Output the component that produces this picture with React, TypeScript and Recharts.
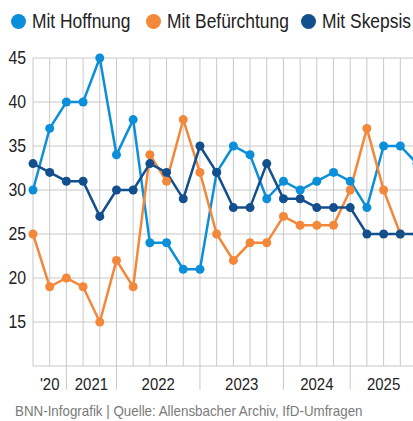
import React from "react";
import { LineChart, Line, XAxis, YAxis, CartesianGrid, ReferenceLine } from "recharts";

const hoffnung = [30, 37, 40, 40, 45, 34, 38, 24, 24, 21, 21, 32, 35, 34, 29, 31, 30, 31, 32, 31, 28, 35, 35, 33];
const befuerchtung = [25, 19, 20, 19, 15, 22, 19, 34, 31, 38, 32, 25, 22, 24, 24, 27, 26, 26, 26, 30, 37, 30, 25, null];
const skepsis = [33, 32, 31, 31, 27, 30, 30, 33, 32, 29, 35, 32, 28, 28, 33, 29, 29, 28, 28, 28, 25, 25, 25, 25];

const yearLabels = ["'20", "2021", "2022", "2023", "2024", "2025"];
const yearCenters = [1, 3.5, 7.5, 12.5, 17, 21];
const yearBreaks = [2, 5, 10, 15, 19];
const yTicks = [10, 15, 20, 25, 30, 35, 40, 45];

const LIGHT = "#0a8fd8";
const ORANGE = "#f3873a";
const DARK = "#134f8d";
const GRID = "#c8c8c8";
const FONT = "'Liberation Sans', Arial, sans-serif";

const data = hoffnung.map((v, i) => ({
  i,
  hoffnung: v,
  befuerchtung: befuerchtung[i],
  skepsis: skepsis[i],
}));

const allIdx = data.map((d) => d.i);

const legendItems = [
  { label: "Mit Hoffnung", color: LIGHT, left: 11 },
  { label: "Mit Befürchtung", color: ORANGE, left: 146 },
  { label: "Mit Skepsis", color: DARK, left: 301 },
];

function NarrowTick(props: any) {
  const { x, y, payload, textAnchor, formatter, size } = props;
  const label = formatter ? formatter(payload.value) : String(payload.value);
  return (
    <g transform={`translate(${x},${y})`}>
      <text
        transform="scale(0.88,1)"
        textAnchor={textAnchor}
        dy="0.355em"
        fill="#222"
        fontSize={size}
        fontFamily={FONT}
      >
        {label}
      </text>
    </g>
  );
}

const yearFmt = (v: number) => yearLabels[yearCenters.indexOf(v)];
const yFmt = (v: number) => (v === 10 ? "" : String(v));

export default function App() {
  return (
    <div
      style={{
        position: "fixed",
        left: 0,
        top: 0,
        width: 413,
        height: 421,
        overflow: "hidden",
        background: "#fff",
        fontFamily: FONT,
      }}
    >
      {legendItems.map((it) => (
        <div
          key={it.label}
          style={{
            position: "absolute",
            left: it.left,
            top: 10,
            display: "flex",
            alignItems: "center",
            whiteSpace: "nowrap",
            fontSize: 20,
            color: "#222",
          }}
        >
          <span
            style={{
              display: "inline-block",
              width: 15,
              height: 15,
              borderRadius: "50%",
              background: it.color,
              marginRight: 6,
            }}
          />
          <span style={{ display: "inline-block", transform: "scaleX(0.87)", transformOrigin: "left center" }}>
            {it.label}
          </span>
        </div>
      ))}
      <div style={{ position: "absolute", left: 0, top: 0 }}>
        <LineChart
          width={430}
          height={421}
          data={data}
          margin={{ top: 58, right: 13, bottom: 25, left: 0 }}
        >
          <CartesianGrid
            xAxisId="pts"
            stroke={GRID}
            strokeWidth={1}
            verticalCoordinatesGenerator={({ xAxis, offset }: any) =>
              allIdx.map((i) =>
                xAxis && typeof xAxis.scale === "function"
                  ? xAxis.scale(i)
                  : offset.left + (i * offset.width) / (allIdx.length - 1)
              )
            }
          />
          <XAxis
            xAxisId="pts"
            dataKey="i"
            type="number"
            domain={[0, 23]}
            ticks={allIdx}
            height={0}
            axisLine={false}
            tickLine={false}
            tick={false}
          />
          <XAxis
            xAxisId="years"
            dataKey="i"
            type="number"
            domain={[0, 23]}
            ticks={yearCenters}
            height={30}
            axisLine={false}
            tickLine={false}
            tickSize={0}
            tickMargin={0}
            tick={(p: any) => <NarrowTick {...p} y={p.y + 18} size={17} formatter={yearFmt} />}
          />
          <YAxis
            type="number"
            domain={[10, 45]}
            ticks={yTicks}
            width={33}
            axisLine={false}
            tickLine={false}
            tickSize={0}
            tickMargin={0}
            tick={(p: any) => <NarrowTick {...p} x={p.x - 7} size={18} formatter={yFmt} />}
          />
          {yearBreaks.map((b) => (
            <ReferenceLine
              key={b}
              xAxisId="pts"
              segment={[
                { x: b, y: 10 },
                { x: b, y: 7.3 },
              ]}
              stroke={GRID}
              strokeWidth={1}
              ifOverflow="visible"
            />
          ))}
          <Line
            xAxisId="pts"
            dataKey="hoffnung"
            stroke={LIGHT}
            strokeWidth={2.5}
            dot={{ r: 4.5, fill: LIGHT, stroke: "none" }}
            isAnimationActive={false}
          />
          <Line
            xAxisId="pts"
            dataKey="befuerchtung"
            stroke={ORANGE}
            strokeWidth={2.5}
            dot={{ r: 4.5, fill: ORANGE, stroke: "none" }}
            isAnimationActive={false}
          />
          <Line
            xAxisId="pts"
            dataKey="skepsis"
            stroke={DARK}
            strokeWidth={2.5}
            dot={{ r: 4.5, fill: DARK, stroke: "none" }}
            isAnimationActive={false}
          />
        </LineChart>
      </div>
      <div
        style={{
          position: "absolute",
          left: 15,
          top: 402,
          fontSize: 15,
          color: "#7a7a7a",
          whiteSpace: "nowrap",
          transform: "scaleX(0.89)",
          transformOrigin: "left center",
        }}
      >
        BNN-Infografik | Quelle: Allensbacher Archiv, IfD-Umfragen
      </div>
    </div>
  );
}
